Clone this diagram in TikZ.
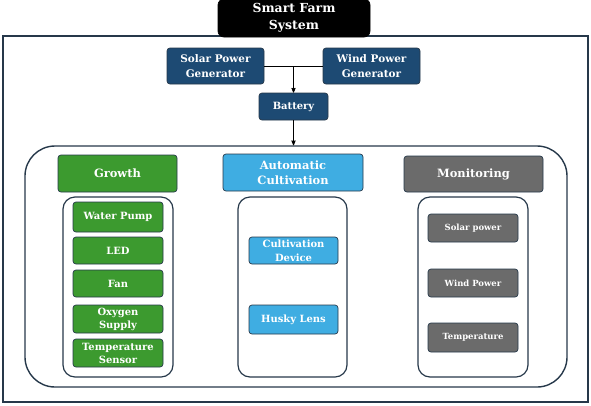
\documentclass[tikz,border=0pt]{standalone}
\usepackage{fontspec}
\setmainfont{DejaVu Serif}
\usetikzlibrary{arrows,positioning,calc}
\definecolor{navy}{HTML}{1D4A73}
\definecolor{leaf}{HTML}{3C9A2F}
\definecolor{sky}{HTML}{3FADE2}
\definecolor{slate}{HTML}{6B6B6B}
\definecolor{edge}{HTML}{26384A}
\tikzset{x=1bp, y=-1bp,
        box/.style={ % Sets the properties for each coloured box
            rounded corners=3bp,
            draw=edge,
            line width=0.7bp,
            text=white,
            align=center,
            inner sep=0pt,
            font=\bfseries\fontsize{10}{13}\selectfont},
        head/.style={ % Group headings
            box,
            minimum height=37bp,
            font=\bfseries\fontsize{11.5}{14.5}\selectfont},
        frame/.style={ % Rounded group frames
            draw=edge,
            line width=1.2bp,
            rounded corners=12bp,
            minimum width=110bp,
            minimum height=180bp},
        every edge/.style={ % Sets the properties for each connector
            draw,
            ->,>=stealth', % Directed with small arrowheads
            line width=0.8bp}
        }
\begin{document}
\begin{tikzpicture}
    \useasboundingbox (0,0) rectangle (591,405);
    % outer frame
    \node[draw=edge, line width=1.6bp, minimum width=585bp, minimum height=366bp] (system) at (295.5,219) {};
    \node[box, fill=black, draw=black, rounded corners=6bp, minimum width=152bp, minimum height=38bp,
          font=\bfseries\fontsize{12.5}{17}\selectfont] (title) at (294,18) {Smart Farm\\System};

    % power supply
    \node[box, fill=navy, minimum width=97bp, minimum height=36bp, font=\bfseries\fontsize{10.5}{14.5}\selectfont] (solar) at (215.5,66) {Solar Power\\Generator};
    \node[box, fill=navy, minimum width=97bp, minimum height=36bp, font=\bfseries\fontsize{10.5}{14.5}\selectfont] (wind)  at (371.5,66) {Wind Power\\Generator};
    \node[box, fill=navy, minimum width=69bp, minimum height=27bp] (battery) at (293.5,106.5) {Battery};
    \node[draw=edge, line width=1.4bp, rounded corners=30bp, minimum width=542bp, minimum height=241bp] (main) at (296,266.5) {};

    \coordinate (join) at ($(solar.east)!0.5!(wind.west)$);
    \draw[line width=0.8bp] (solar.east) -- (wind.west);
    \draw
        (join)    edge (battery.north)
        (battery) edge (main.north -| battery);

    % growth
    \node[head, fill=leaf, minimum width=119bp] (growth) at (117.5,173.5) {Growth};
    \node[frame] (growthbox) at (118,287) {};
    \node[box, fill=leaf, minimum width=90bp, minimum height=30bp] (pump)   at (118,217)   {Water Pump};
    \node[box, fill=leaf, minimum width=90bp, minimum height=27bp] (led)    at (118,250.5) {LED};
    \node[box, fill=leaf, minimum width=90bp, minimum height=27bp] (fan)    at (118,283.5) {Fan};
    \node[box, fill=leaf, minimum width=90bp, minimum height=28bp] (oxygen) at (118,319)   {Oxygen\\Supply};
    \node[box, fill=leaf, minimum width=90bp, minimum height=28bp] (sensor) at (118,353)   {Temperature\\Sensor};

    % automatic cultivation
    \node[head, fill=sky, minimum width=140bp] (auto) at (293,172.5) {Automatic\\Cultivation};
    \node[frame, minimum width=109bp] (autobox) at (292.5,287) {};
    \node[box, fill=sky, minimum width=89bp, minimum height=27bp, font=\bfseries\fontsize{10}{14.5}\selectfont] (device) at (293.5,250.5) {Cultivation\\Device};
    \node[box, fill=sky, minimum width=89bp, minimum height=29bp] (husky)  at (293.5,319.5) {Husky Lens};

    % monitoring
    \node[head, fill=slate, minimum width=139bp, minimum height=36bp] (monitor) at (473.5,174) {Monitoring};
    \node[frame] (monbox) at (473,287) {};
    \node[box, fill=slate, minimum width=90bp, minimum height=28bp, font=\bfseries\fontsize{8.5}{10}\selectfont] (msolar) at (473,228)   {Solar power};
    \node[box, fill=slate, minimum width=90bp, minimum height=28bp, font=\bfseries\fontsize{8.5}{10}\selectfont] (mwind)  at (473,283)   {Wind Power};
    \node[box, fill=slate, minimum width=90bp, minimum height=29bp, font=\bfseries\fontsize{8.5}{10}\selectfont] (mtemp)  at (473,337.5) {Temperature};
\end{tikzpicture}
\end{document}
